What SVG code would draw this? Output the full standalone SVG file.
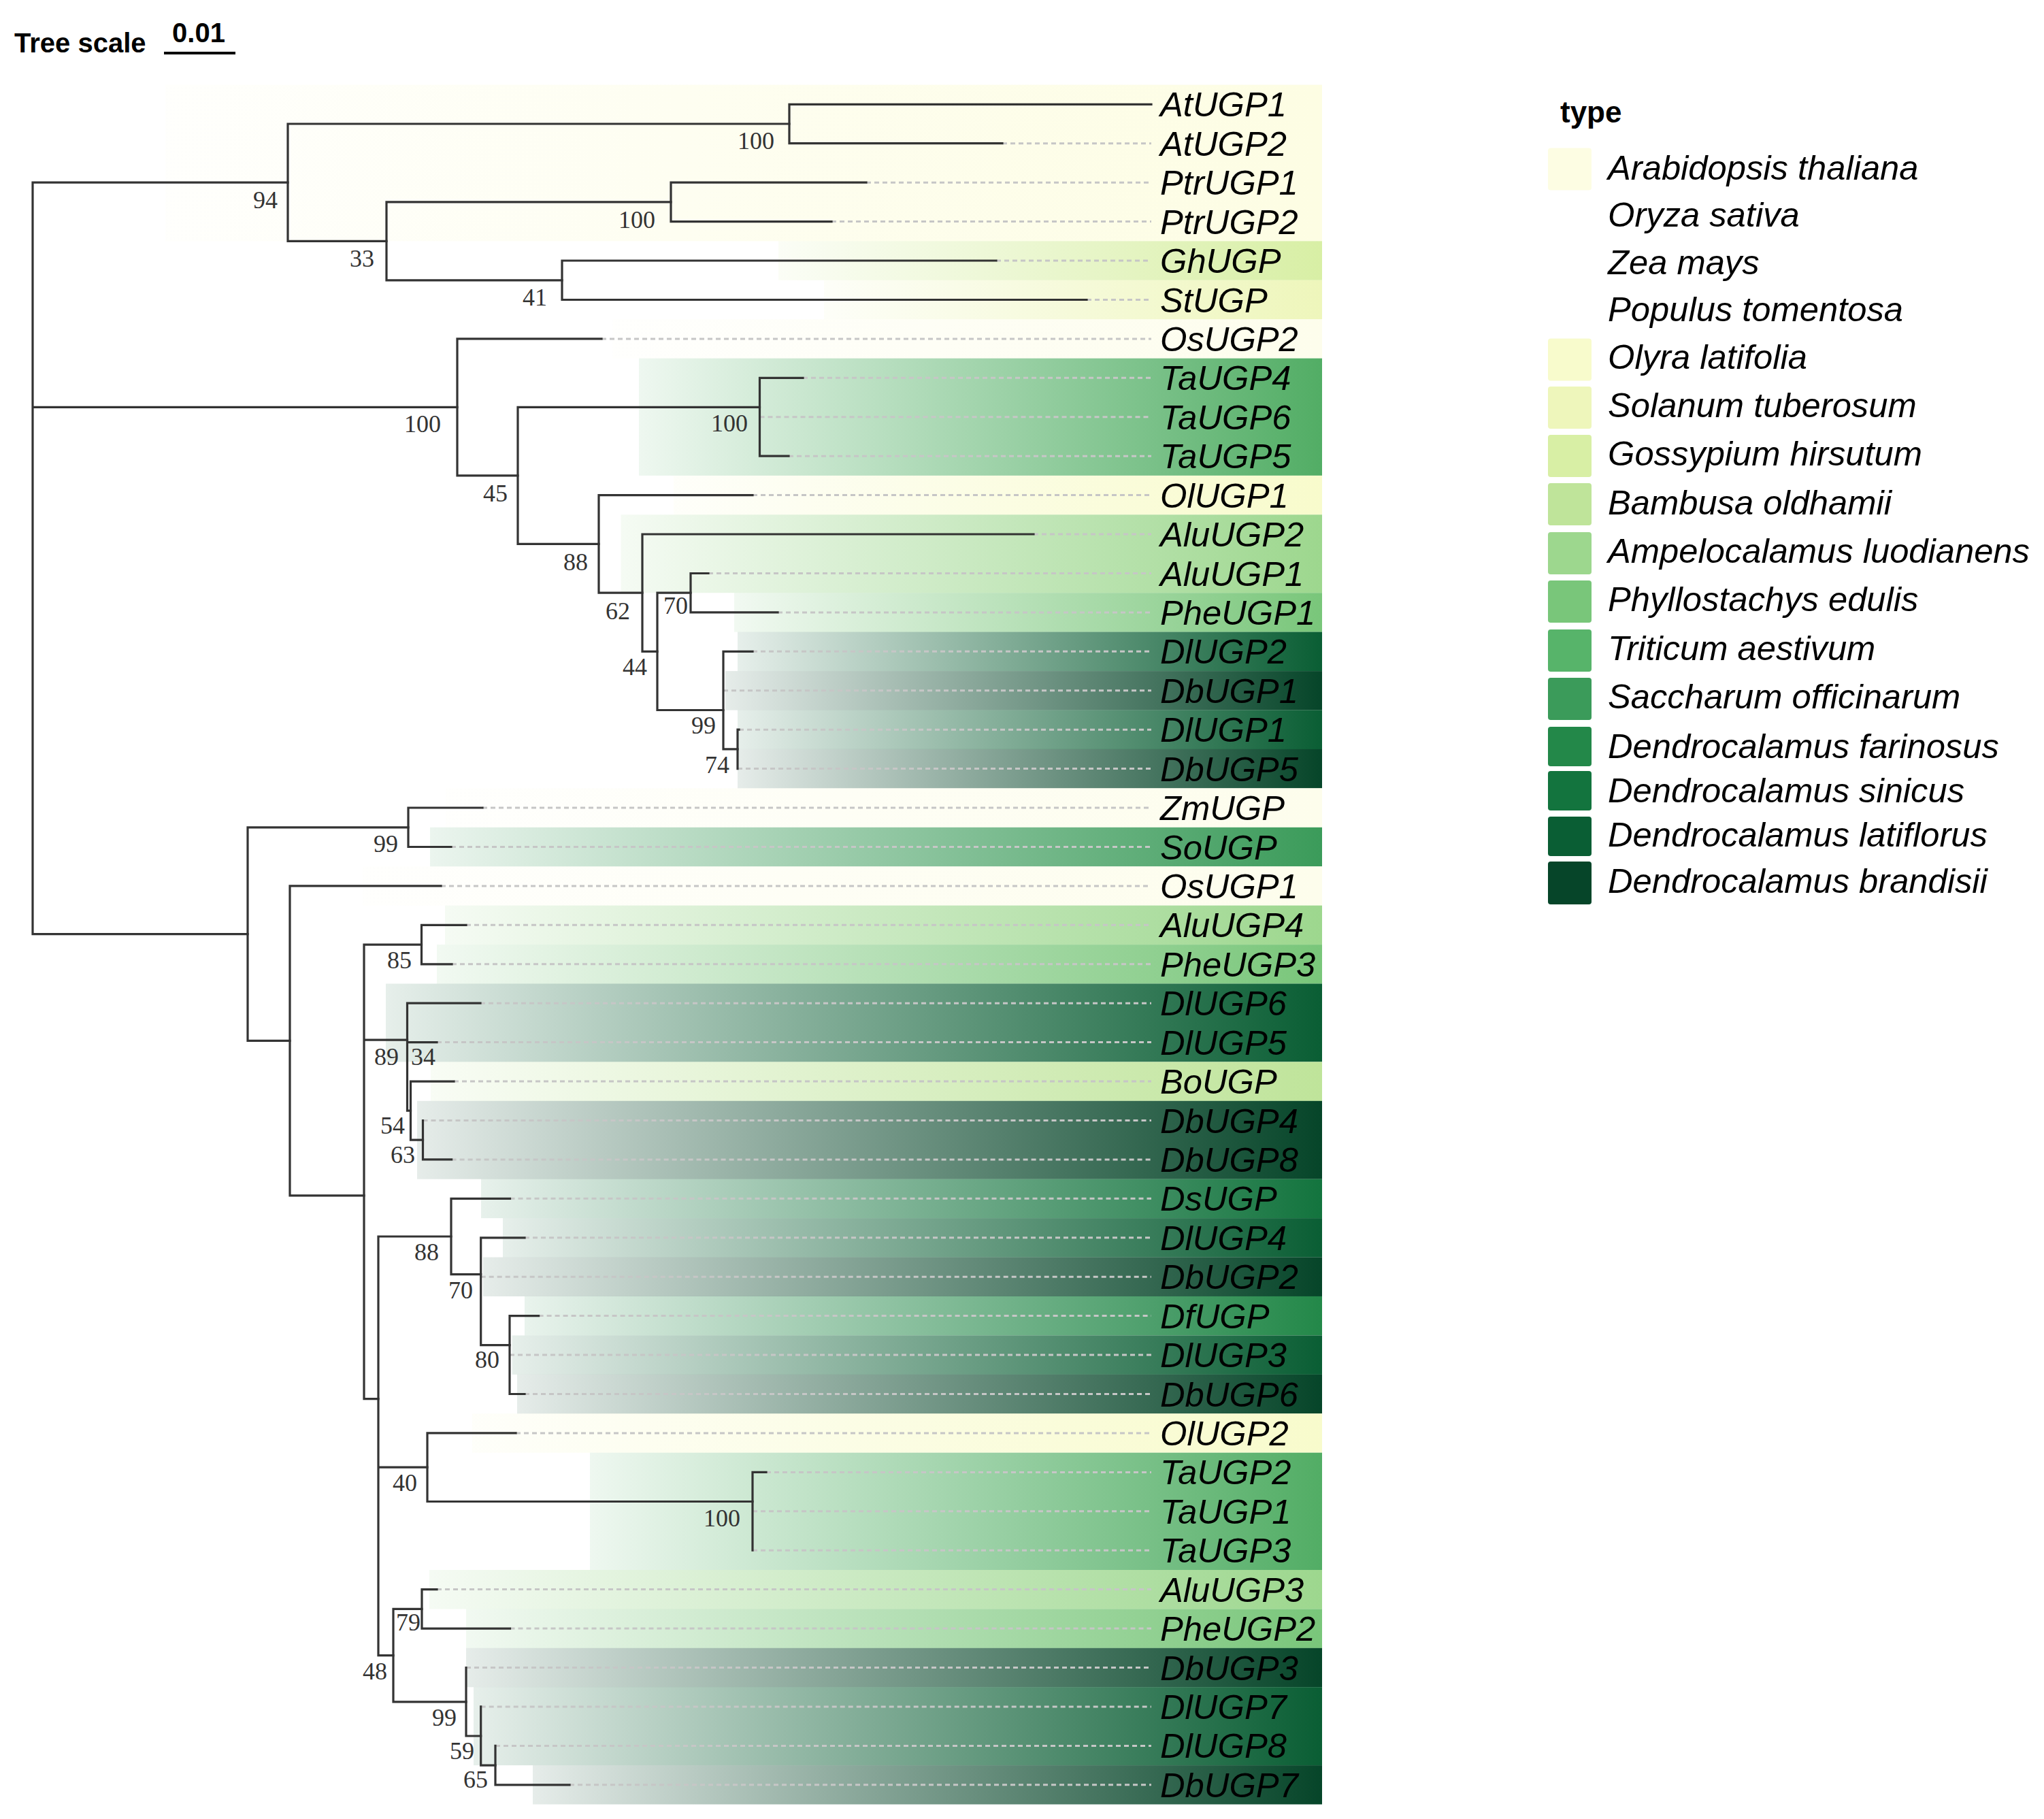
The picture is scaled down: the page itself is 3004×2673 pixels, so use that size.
<svg xmlns="http://www.w3.org/2000/svg" width="3004" height="2673" viewBox="0 0 3004 2673">
<style>
.br{stroke:#333;stroke-width:3.2;fill:none;stroke-linecap:square}
.ext{stroke:#c6c6c6;stroke-width:3;stroke-dasharray:7 5;fill:none}
.leaf{font-family:"Liberation Sans",Arial,sans-serif;font-style:italic;font-size:50.7px;fill:#000}
.bs{font-family:"Liberation Serif","Times New Roman",serif;font-size:36px;fill:#333;text-anchor:end}
.hd{font-family:"Liberation Sans",Arial,sans-serif;font-weight:bold;fill:#000}
.sw{stroke:none}
</style>
<defs>
<linearGradient id="g-arab"><stop offset="0" stop-color="#fdfde3" stop-opacity="0.1"/><stop offset="1" stop-color="#fdfde3"/></linearGradient>
<linearGradient id="g-oryza"><stop offset="0" stop-color="#fdfdec" stop-opacity="0.1"/><stop offset="1" stop-color="#fdfdec"/></linearGradient>
<linearGradient id="g-olyra"><stop offset="0" stop-color="#f8fbcc" stop-opacity="0.1"/><stop offset="1" stop-color="#f8fbcc"/></linearGradient>
<linearGradient id="g-sol"><stop offset="0" stop-color="#eef6bb" stop-opacity="0.1"/><stop offset="1" stop-color="#eef6bb"/></linearGradient>
<linearGradient id="g-goss"><stop offset="0" stop-color="#d8efa5" stop-opacity="0.1"/><stop offset="1" stop-color="#d8efa5"/></linearGradient>
<linearGradient id="g-bamb"><stop offset="0" stop-color="#bfe49a" stop-opacity="0.1"/><stop offset="1" stop-color="#bfe49a"/></linearGradient>
<linearGradient id="g-ampe"><stop offset="0" stop-color="#9dd78e" stop-opacity="0.1"/><stop offset="1" stop-color="#9dd78e"/></linearGradient>
<linearGradient id="g-phyl"><stop offset="0" stop-color="#79c67a" stop-opacity="0.1"/><stop offset="1" stop-color="#79c67a"/></linearGradient>
<linearGradient id="g-trit"><stop offset="0" stop-color="#57b46a" stop-opacity="0.1"/><stop offset="1" stop-color="#52ad65"/></linearGradient>
<linearGradient id="g-sacc"><stop offset="0" stop-color="#3b9b5a" stop-opacity="0.1"/><stop offset="1" stop-color="#3b9b5a"/></linearGradient>
<linearGradient id="g-farin"><stop offset="0" stop-color="#238849" stop-opacity="0.1"/><stop offset="1" stop-color="#238849"/></linearGradient>
<linearGradient id="g-sinic"><stop offset="0" stop-color="#13743e" stop-opacity="0.1"/><stop offset="1" stop-color="#13743e"/></linearGradient>
<linearGradient id="g-latif"><stop offset="0" stop-color="#0a5e34" stop-opacity="0.1"/><stop offset="1" stop-color="#0a5e34"/></linearGradient>
<linearGradient id="g-brand"><stop offset="0" stop-color="#064529" stop-opacity="0.1"/><stop offset="1" stop-color="#064529"/></linearGradient>
</defs>
<rect width="3004" height="2673" fill="#fff"/>

<g id="tree-scale">
<text class="hd" x="21" y="77" font-size="40">Tree scale</text>
<text class="hd" x="292" y="62" font-size="40" text-anchor="middle">0.01</text>
<line x1="241" y1="78" x2="346" y2="78" stroke="#000" stroke-width="4"/>
</g>

<g id="ranges">
<rect x="243" y="124.6" width="1700" height="229.7" fill="url(#g-arab)"/>
<rect x="1144" y="354.3" width="799" height="57.5" fill="url(#g-goss)"/>
<rect x="1211" y="411.8" width="732" height="57.5" fill="url(#g-sol)"/>
<rect x="900" y="469.2" width="1043" height="57.5" fill="url(#g-oryza)"/>
<rect x="939" y="526.6" width="1004" height="172.3" fill="url(#g-trit)"/>
<rect x="990" y="698.9" width="953" height="57.5" fill="url(#g-olyra)"/>
<rect x="912.5" y="756.3" width="1030.5" height="114.9" fill="url(#g-ampe)"/>
<rect x="1079" y="871.2" width="864" height="57.5" fill="url(#g-phyl)"/>
<rect x="1084" y="928.6" width="859" height="57.5" fill="url(#g-latif)"/>
<rect x="1066" y="986.1" width="877" height="57.5" fill="url(#g-brand)"/>
<rect x="1084" y="1043.5" width="859" height="57.5" fill="url(#g-latif)"/>
<rect x="1084" y="1100.9" width="859" height="57.5" fill="url(#g-brand)"/>
<rect x="655" y="1158.3" width="1288" height="57.5" fill="url(#g-oryza)"/>
<rect x="632" y="1215.8" width="1311" height="57.5" fill="url(#g-sacc)"/>
<rect x="533" y="1273.2" width="1410" height="57.5" fill="url(#g-oryza)"/>
<rect x="654" y="1330.6" width="1289" height="57.5" fill="url(#g-ampe)"/>
<rect x="642" y="1388.1" width="1301" height="57.5" fill="url(#g-phyl)"/>
<rect x="567" y="1445.5" width="1376" height="114.9" fill="url(#g-latif)"/>
<rect x="633" y="1560.4" width="1310" height="57.5" fill="url(#g-bamb)"/>
<rect x="613" y="1617.8" width="1330" height="114.9" fill="url(#g-brand)"/>
<rect x="707" y="1732.6" width="1236" height="57.5" fill="url(#g-sinic)"/>
<rect x="739" y="1790.1" width="1204" height="57.5" fill="url(#g-latif)"/>
<rect x="710" y="1847.5" width="1233" height="57.5" fill="url(#g-brand)"/>
<rect x="771" y="1904.9" width="1172" height="57.5" fill="url(#g-farin)"/>
<rect x="752.6" y="1962.4" width="1190.4" height="57.5" fill="url(#g-latif)"/>
<rect x="760" y="2019.8" width="1183" height="57.5" fill="url(#g-brand)"/>
<rect x="694" y="2077.2" width="1249" height="57.5" fill="url(#g-olyra)"/>
<rect x="867" y="2134.7" width="1076" height="172.3" fill="url(#g-trit)"/>
<rect x="631" y="2307" width="1312" height="57.5" fill="url(#g-ampe)"/>
<rect x="685" y="2364.4" width="1258" height="57.5" fill="url(#g-phyl)"/>
<rect x="685" y="2421.8" width="1258" height="57.5" fill="url(#g-brand)"/>
<rect x="696" y="2479.2" width="1247" height="114.9" fill="url(#g-latif)"/>
<rect x="783" y="2594.1" width="1160" height="57.4" fill="url(#g-brand)"/>
</g>

<g id="connectors">
<g id="leaf-extensions" class="ext">
<path d="M1473 210.7H1692M1273 268.2H1692M1222 325.6H1692M1464 383H1692M1597 440.5H1692M884 497.9H1692M1180 555.3H1692M1116.5 612.7H1692M1159 670.2H1692M1106 727.6H1692M1519 785H1692M1041 842.5H1692M1143 899.9H1692M1106 957.3H1692M1063 1014.8H1692M1086 1072.2H1692M1084 1129.6H1692"/>
<path d="M709 1187H1692M663 1244.5H1692M648 1301.9H1692M685 1359.3H1692M664 1416.8H1692M706 1474.2H1692M642 1531.6H1692M667 1589.1H1692M621.5 1646.5H1692M663.6 1703.9H1692M749.5 1761.3H1692M771 1818.8H1692M706.7 1876.2H1692M791.6 1933.6H1692M749 1991.1H1692M771 2048.5H1692M758 2105.9H1692M1126 2163.4H1692M1106 2220.8H1692M1106 2278.2H1692M642 2335.6H1692M749.5 2393.1H1692M685 2450.5H1692M706.7 2507.9H1692M728 2565.4H1692M837 2622.8H1692"/>
</g>
<g id="branches" class="br">
<path d="M48 268.2V1372.6M48 268.2H423M48 598.4H672M48 1372.6H364"/>
<path d="M423 182V354.3M423 182H1160M423 354.3H568"/>
<path d="M1160 153.3V210.7M1160 153.3H1692M1160 210.7H1473"/>
<path d="M568 296.9V411.8M568 296.9H986M568 411.8H826"/>
<path d="M986 268.2V325.6M986 268.2H1273M986 325.6H1222"/>
<path d="M826 383V440.5M826 383H1464M826 440.5H1597"/>
<path d="M672 497.9V698.9M672 497.9H884M672 698.9H761"/>
<path d="M761 598.4V799.4M761 598.4H1116.5M761 799.4H880"/>
<path d="M1116.5 555.3V670.2M1116.5 555.3H1180M1116.5 670.2H1159"/>
<path d="M880 727.6V871.2M880 727.6H1106M880 871.2H944"/>
<path d="M944 785V957.4M944 785H1519M944 957.4H966"/>
<path d="M966 871.2V1043.5M966 871.2H1015M966 1043.5H1063"/>
<path d="M1015 842.5V899.9M1015 842.5H1041M1015 899.9H1143"/>
<path d="M1063 957.3V1100.9M1063 957.3H1106M1063 1100.9H1084"/>
<path d="M1084 1072.2V1129.6M1084 1072.2H1086"/>
<path d="M364 1215.8V1529.4M364 1215.8H600M364 1529.4H426"/>
<path d="M600 1187V1244.5M600 1187H709M600 1244.5H663"/>
<path d="M426 1301.9V1756.9M426 1301.9H648M426 1756.9H535"/>
<path d="M535 1388.1V2055.7M535 1388.1H619.5M535 1528.1H598.5M535 2055.7H556"/>
<path d="M619.5 1359.3V1416.8M619.5 1359.3H685M619.5 1416.8H664"/>
<path d="M598.5 1474.2V1632.2M598.5 1474.2H706M598.5 1531.6H642M598.5 1632.2H603.5"/>
<path d="M603.5 1589.1V1675.2M603.5 1589.1H667M603.5 1675.2H621.5"/>
<path d="M621.5 1646.5V1703.9M621.5 1703.9H663.6"/>
<path d="M556 1817V2432.6M556 1817H663M556 2156.2H628M556 2432.6H578"/>
<path d="M663 1761.3V1872.6M663 1761.3H749.5M663 1872.6H706.7"/>
<path d="M706.7 1818.8V1976.7M706.7 1818.8H771M706.7 1976.7H749"/>
<path d="M749 1933.6V2048.5M749 1933.6H791.6M749 2048.5H771"/>
<path d="M628 2105.9V2206.5M628 2105.9H758M628 2206.5H1106"/>
<path d="M1106 2163.4V2278.2M1106 2163.4H1126"/>
<path d="M578 2364.4V2500.8M578 2364.4H620M578 2500.8H685"/>
<path d="M620 2335.6V2393.1M620 2335.6H642M620 2393.1H749.5"/>
<path d="M685 2450.5V2551M685 2551H706.7"/>
<path d="M706.7 2507.9V2594.1M706.7 2594.1H728"/>
<path d="M728 2565.4V2622.8M728 2622.8H837"/>
</g>
</g>

<g id="support-values">
<g id="n94"><text class="bs" x="408" y="306">94</text></g>
<g id="n100a"><text class="bs" x="1138" y="219">100</text></g>
<g id="n33"><text class="bs" x="550" y="392">33</text></g>
<g id="n100b"><text class="bs" x="963" y="335">100</text></g>
<g id="n41"><text class="bs" x="804" y="449">41</text></g>
<g id="n100c"><text class="bs" x="648" y="635">100</text></g>
<g id="n45"><text class="bs" x="746" y="737">45</text></g>
<g id="n100d"><text class="bs" x="1099" y="634">100</text></g>
<g id="n88a"><text class="bs" x="864" y="838">88</text></g>
<g id="n62"><text class="bs" x="926" y="910">62</text></g>
<g id="n44"><text class="bs" x="951" y="992">44</text></g>
<g id="n70a"><text class="bs" x="1011" y="902">70</text></g>
<g id="n99a"><text class="bs" x="1052" y="1078">99</text></g>
<g id="n74"><text class="bs" x="1072" y="1136">74</text></g>
<g id="n99b"><text class="bs" x="585" y="1252">99</text></g>
<g id="n85"><text class="bs" x="605" y="1423">85</text></g>
<g id="n89"><text class="bs" x="586" y="1565">89</text></g>
<g id="n34"><text class="bs" x="640" y="1565">34</text></g>
<g id="n54"><text class="bs" x="595" y="1666">54</text></g>
<g id="n63"><text class="bs" x="610" y="1709">63</text></g>
<g id="n88b"><text class="bs" x="645" y="1852">88</text></g>
<g id="n70b"><text class="bs" x="695" y="1908">70</text></g>
<g id="n80"><text class="bs" x="734" y="2010">80</text></g>
<g id="n40"><text class="bs" x="613" y="2191">40</text></g>
<g id="n100e"><text class="bs" x="1088" y="2243">100</text></g>
<g id="n79"><text class="bs" x="618" y="2396">79</text></g>
<g id="n48"><text class="bs" x="569" y="2468">48</text></g>
<g id="n99c"><text class="bs" x="671" y="2536">99</text></g>
<g id="n59"><text class="bs" x="697" y="2585">59</text></g>
<g id="n65"><text class="bs" x="717" y="2627">65</text></g>
</g>

<g id="leaves" class="leaf">
<g id="AtUGP1"><text x="1705" y="171.3">AtUGP1</text></g>
<g id="AtUGP2"><text x="1705" y="228.7">AtUGP2</text></g>
<g id="PtrUGP1"><text x="1705" y="286.2">PtrUGP1</text></g>
<g id="PtrUGP2"><text x="1705" y="343.6">PtrUGP2</text></g>
<g id="GhUGP"><text x="1705" y="401">GhUGP</text></g>
<g id="StUGP"><text x="1705" y="458.5">StUGP</text></g>
<g id="OsUGP2"><text x="1705" y="515.9">OsUGP2</text></g>
<g id="TaUGP4"><text x="1705" y="573.3">TaUGP4</text></g>
<g id="TaUGP6"><text x="1705" y="630.7">TaUGP6</text></g>
<g id="TaUGP5"><text x="1705" y="688.2">TaUGP5</text></g>
<g id="OlUGP1"><text x="1705" y="745.6">OlUGP1</text></g>
<g id="AluUGP2"><text x="1705" y="803">AluUGP2</text></g>
<g id="AluUGP1"><text x="1705" y="860.5">AluUGP1</text></g>
<g id="PheUGP1"><text x="1705" y="917.9">PheUGP1</text></g>
<g id="DlUGP2"><text x="1705" y="975.3">DlUGP2</text></g>
<g id="DbUGP1"><text x="1705" y="1032.8">DbUGP1</text></g>
<g id="DlUGP1"><text x="1705" y="1090.2">DlUGP1</text></g>
<g id="DbUGP5"><text x="1705" y="1147.6">DbUGP5</text></g>
<g id="ZmUGP"><text x="1705" y="1205">ZmUGP</text></g>
<g id="SoUGP"><text x="1705" y="1262.5">SoUGP</text></g>
<g id="OsUGP1"><text x="1705" y="1319.9">OsUGP1</text></g>
<g id="AluUGP4"><text x="1705" y="1377.3">AluUGP4</text></g>
<g id="PheUGP3"><text x="1705" y="1434.8">PheUGP3</text></g>
<g id="DlUGP6"><text x="1705" y="1492.2">DlUGP6</text></g>
<g id="DlUGP5"><text x="1705" y="1549.6">DlUGP5</text></g>
<g id="BoUGP"><text x="1705" y="1607.1">BoUGP</text></g>
<g id="DbUGP4"><text x="1705" y="1664.5">DbUGP4</text></g>
<g id="DbUGP8"><text x="1705" y="1721.9">DbUGP8</text></g>
<g id="DsUGP"><text x="1705" y="1779.3">DsUGP</text></g>
<g id="DlUGP4"><text x="1705" y="1836.8">DlUGP4</text></g>
<g id="DbUGP2"><text x="1705" y="1894.2">DbUGP2</text></g>
<g id="DfUGP"><text x="1705" y="1951.6">DfUGP</text></g>
<g id="DlUGP3"><text x="1705" y="2009.1">DlUGP3</text></g>
<g id="DbUGP6"><text x="1705" y="2066.5">DbUGP6</text></g>
<g id="OlUGP2"><text x="1705" y="2123.9">OlUGP2</text></g>
<g id="TaUGP2"><text x="1705" y="2181.4">TaUGP2</text></g>
<g id="TaUGP1"><text x="1705" y="2238.8">TaUGP1</text></g>
<g id="TaUGP3"><text x="1705" y="2296.2">TaUGP3</text></g>
<g id="AluUGP3"><text x="1705" y="2353.6">AluUGP3</text></g>
<g id="PheUGP2"><text x="1705" y="2411.1">PheUGP2</text></g>
<g id="DbUGP3"><text x="1705" y="2468.5">DbUGP3</text></g>
<g id="DlUGP7"><text x="1705" y="2525.9">DlUGP7</text></g>
<g id="DlUGP8"><text x="1705" y="2583.4">DlUGP8</text></g>
<g id="DbUGP7"><text x="1705" y="2640.8">DbUGP7</text></g>
</g>

<g id="legend">
<text class="hd" x="2293" y="180" font-size="44">type</text>
<g class="sw">
<rect x="2275" y="217.6" width="64" height="62" rx="4" fill="#fdfde3"/>
<rect x="2275" y="497.5" width="64" height="62" rx="4" fill="#f8fbcc"/>
<rect x="2275" y="568" width="64" height="62" rx="4" fill="#eef6bb"/>
<rect x="2275" y="639" width="64" height="62" rx="4" fill="#d8efa5"/>
<rect x="2275" y="710" width="64" height="62" rx="4" fill="#bfe49a"/>
<rect x="2275" y="782" width="64" height="62" rx="4" fill="#9dd78e"/>
<rect x="2275" y="853" width="64" height="62" rx="4" fill="#79c67a"/>
<rect x="2275" y="925" width="64" height="62" rx="4" fill="#57b46a"/>
<rect x="2275" y="996" width="64" height="62" rx="4" fill="#3b9b5a"/>
<rect x="2275" y="1068" width="64" height="58" rx="4" fill="#238849"/>
<rect x="2275" y="1133" width="64" height="58" rx="4" fill="#13743e"/>
<rect x="2275" y="1200" width="64" height="58" rx="4" fill="#0a5e34"/>
<rect x="2275" y="1266" width="64" height="63" rx="4" fill="#064529"/>
</g>
<g class="leaf">
<text x="2363" y="264">Arabidopsis thaliana</text>
<text x="2363" y="333">Oryza sativa</text>
<text x="2363" y="403">Zea mays</text>
<text x="2363" y="472">Populus tomentosa</text>
<text x="2363" y="542">Olyra latifolia</text>
<text x="2363" y="613">Solanum tuberosum</text>
<text x="2363" y="684">Gossypium hirsutum</text>
<text x="2363" y="756">Bambusa oldhamii</text>
<text x="2363" y="827">Ampelocalamus luodianens</text>
<text x="2363" y="898">Phyllostachys edulis</text>
<text x="2363" y="970">Triticum aestivum</text>
<text x="2363" y="1041">Saccharum officinarum</text>
<text x="2363" y="1114">Dendrocalamus farinosus</text>
<text x="2363" y="1179">Dendrocalamus sinicus</text>
<text x="2363" y="1244">Dendrocalamus latiflorus</text>
<text x="2363" y="1312">Dendrocalamus brandisii</text>
</g>
</g>
</svg>
